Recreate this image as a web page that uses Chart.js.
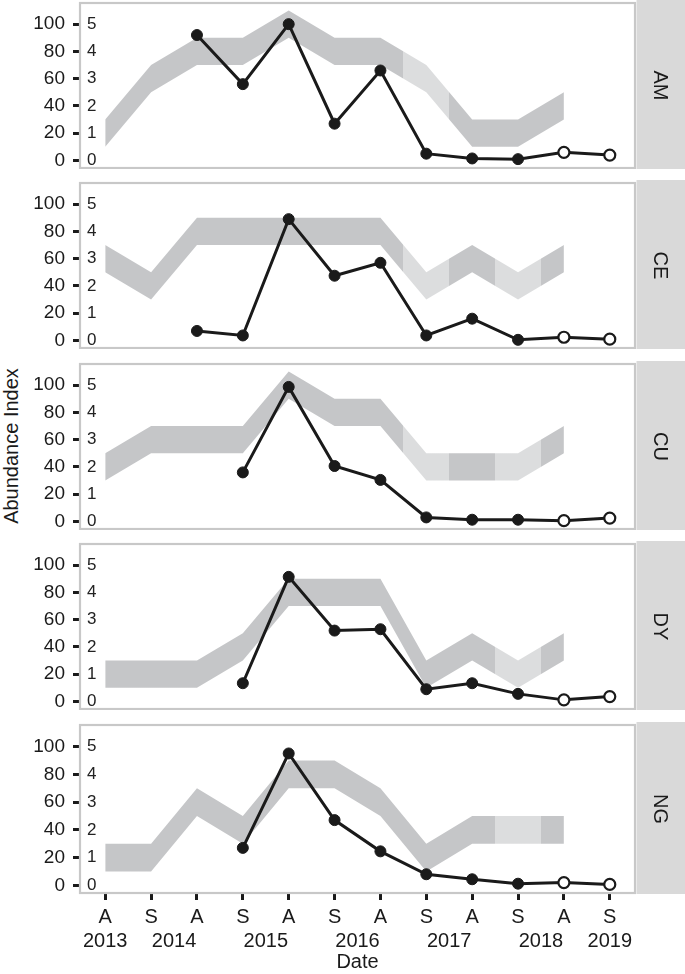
<!DOCTYPE html>
<html>
<head>
<meta charset="utf-8">
<script src="https://cdn.jsdelivr.net/npm/chart.js@4.4.1/dist/chart.umd.min.js"></script>
<style>
  html, body { margin: 0; padding: 0; background: #fff; }
  #wrap { position: relative; width: 685px; height: 974px; overflow: hidden; }
  #wrap canvas { position: absolute; left: 0; }
  #ytitle {
    position: absolute; left: -139px; top: 434px; width: 300px; height: 24px;
    text-align: center; font: 20px 'Liberation Sans', Arial, sans-serif; color: #1a1a1a;
    transform: rotate(-90deg); line-height: 24px;
  }
</style>
</head>
<body>
<div id="wrap">
  <div id="ytitle">Abundance Index</div>
</div>
<script>
// x axis: survey seasons (A = autumn, S = spring) and the year labels underneath
const seasons = ['A', 'S', 'A', 'S', 'A', 'S', 'A', 'S', 'A', 'S', 'A', 'S'];
const yearLabels = ['2013', '2014', '2015', '2016', '2017', '2018', '2019'];
const yearPos = [0, 1.5, 3.5, 5.5, 7.5, 9.5, 11];

// y axis ticks (index 0-100, score 0-5)
const indexTicks = [0, 20, 40, 60, 80, 100];

const panelNames = ['AM', 'CE', 'CU', 'DY', 'NG'];

// abundance index per season
const amIndex = [null, null, 92, 56, 100, 27, 66, 5, 1.5, 1, 6, 4];
const ceIndex = [null, null, 7, 3.7, 89, 47.5, 57, 3.7, 16, 0.5, 2.4, 1];
const cuIndex = [null, null, null, 36, 98.7, 40.7, 30.5, 3, 1.3, 1.3, 0.6, 2.5];
const dyIndex = [null, null, null, 13.4, 91.4, 52, 53, 9, 13.4, 5.6, 1.2, 3.6];
const ngIndex = [null, null, null, 27, 95, 47, 24.5, 8, 4.4, 1.2, 2, 0.7];

// provisional estimates (open points)
const provisional = [0, 0, 0, 0, 0, 0, 0, 0, 0, 0, 1, 1];

// score band, lower and upper edge
const amLow  = [10, 50, 70, 70, 90, 70, 70, 50, 10, 10, 30, null];
const amHigh = [30, 70, 90, 90, 110, 90, 90, 70, 30, 30, 50, null];
const ceLow  = [50, 30, 70, 70, 70, 70, 70, 30, 50, 30, 50, null];
const ceHigh = [70, 50, 90, 90, 90, 90, 90, 50, 70, 50, 70, null];
const cuLow  = [30, 50, 50, 50, 90, 70, 70, 30, 30, 30, 50, null];
const cuHigh = [50, 70, 70, 70, 110, 90, 90, 50, 50, 50, 70, null];
const dyLow  = [10, 10, 10, 30, 70, 70, 70, 10, 30, 10, 30, null];
const dyHigh = [30, 30, 30, 50, 90, 90, 90, 30, 50, 30, 50, null];
const ngLow  = [10, 10, 50, 30, 70, 70, 50, 10, 30, 30, 30, null];
const ngHigh = [30, 30, 70, 50, 90, 90, 70, 30, 50, 50, 50, null];

// band flag: 1 = lighter shade
const amShade = [0, 0, 0, 0, 0, 0, 0, 1, 0, 0, 0, null];
const ceShade = [0, 0, 0, 0, 0, 0, 0, 1, 0, 1, 0, null];
const cuShade = [0, 0, 0, 0, 0, 0, 0, 1, 0, 1, 0, null];
const dyShade = [0, 0, 0, 0, 0, 0, 0, 0, 0, 1, 0, null];
const ngShade = [0, 0, 0, 0, 0, 0, 0, 0, 0, 1, 0, null];

const panelData = [
  { index: amIndex, low: amLow, high: amHigh, shade: amShade },
  { index: ceIndex, low: ceLow, high: ceHigh, shade: ceShade },
  { index: cuIndex, low: cuLow, high: cuHigh, shade: cuShade },
  { index: dyIndex, low: dyLow, high: dyHigh, shade: dyShade },
  { index: ngIndex, low: ngLow, high: ngHigh, shade: ngShade }
];

const FONT = "'Liberation Sans', Arial, sans-serif";
const INK = '#1a1a1a';
const DARK = '#c5c6c8';
const LIGHT = '#dcddde';
Chart.defaults.font.family = FONT;
Chart.defaults.color = INK;

// horizontal gradient with hard stops halfway between seasons
function bandFill(shade) {
  return function (context) {
    const chart = context.chart;
    const area = chart.chartArea;
    if (!area || !chart.scales.x) return DARK;
    const xs = chart.scales.x;
    const w = area.right - area.left;
    const clamp = v => Math.max(0, Math.min(1, v));
    const g = chart.ctx.createLinearGradient(area.left, 0, area.right, 0);
    shade.forEach((s, i) => {
      if (s === null) return;
      const c = s ? LIGHT : DARK;
      g.addColorStop(clamp((xs.getPixelForValue(i - 0.5) - area.left) / w), c);
      g.addColorStop(clamp((xs.getPixelForValue(i + 0.5) - area.left) / w), c);
    });
    return g;
  };
}

// panel frame + facet strip on the right
const panelDeco = {
  id: 'panelDeco',
  afterDraw(chart, args, opts) {
    const { ctx, chartArea: a } = chart;
    ctx.save();
    ctx.strokeStyle = '#c8c8c8';
    ctx.lineWidth = 2.2;
    ctx.strokeRect(a.left, a.top, a.right - a.left, a.bottom - a.top);
    ctx.fillStyle = '#d9d9d9';
    ctx.fillRect(a.right + 1.5, a.top - 3, chart.width - a.right, a.bottom - a.top + 4);
    ctx.translate((a.right + 1.5 + chart.width) / 2, (a.top + a.bottom) / 2);
    ctx.rotate(Math.PI / 2);
    ctx.fillStyle = INK;
    ctx.font = '20px ' + FONT;
    ctx.textAlign = 'center';
    ctx.textBaseline = 'middle';
    ctx.fillText(opts.label, 0, 1);
    ctx.restore();
  }
};

// no automatic label padding: panel frames sit exactly where set
function noPad(axis) {
  axis.paddingTop = 0;
  axis.paddingBottom = 0;
  axis.paddingLeft = 0;
  axis.paddingRight = 0;
}

const wrap = document.getElementById('wrap');
const PANEL_H = 165;

panelNames.forEach((name, k) => {
  const d = panelData[k];
  const isLast = k === panelNames.length - 1;
  const top = 2.5 + k * 180.6;
  const canvas = document.createElement('canvas');
  const h = isLast ? 974 - (top - 3) : PANEL_H + 4;
  canvas.width = 685;
  canvas.height = Math.round(h);
  canvas.style.top = (top - 3) + 'px';
  wrap.appendChild(canvas);

  new Chart(canvas, {
    type: 'line',
    data: {
      labels: seasons.map((s, i) => i),
      datasets: [
        { data: d.low, borderWidth: 0, pointRadius: 0, fill: false, order: 2 },
        { data: d.high, borderWidth: 0, pointRadius: 0, fill: '-1', backgroundColor: bandFill(d.shade), order: 1 },
        {
          data: d.index,
          borderColor: INK,
          borderWidth: 3,
          pointRadius: 5.5,
          pointBorderWidth: provisional.map(p => p ? 2.2 : 1),
          pointBorderColor: INK,
          pointBackgroundColor: provisional.map(p => p ? '#ffffff' : INK),
          fill: false,
          order: 0
        }
      ]
    },
    plugins: [panelDeco],
    options: {
      responsive: false,
      animation: false,
      layout: { autoPadding: false, padding: { top: 3, right: 50, bottom: isLast ? 0 : 1, left: 0 } },
      plugins: {
        legend: { display: false },
        tooltip: { enabled: false },
        panelDeco: { label: name }
      },
      scales: {
        x: {
          type: 'linear',
          min: -0.55,
          max: 11.55,
          display: isLast,
          position: 'bottom',
          weight: 0,
          afterBuildTicks: axis => { axis.ticks = seasons.map((s, i) => ({ value: i })); },
          afterFit: axis => { axis.height = isLast ? 36 : 0; noPad(axis); },
          ticks: {
            autoSkip: false, maxRotation: 0, padding: 5, color: INK,
            font: { size: 20 },
            callback: (v, i) => seasons[i]
          },
          grid: { drawOnChartArea: false, tickLength: 7, tickWidth: 3, tickColor: INK },
          border: { display: false }
        },
        years: {
          type: 'linear',
          min: -0.55,
          max: 11.55,
          display: isLast,
          position: 'bottom',
          weight: 1,
          afterBuildTicks: axis => { axis.ticks = yearPos.map(v => ({ value: v })); },
          afterFit: axis => { axis.height = isLast ? 45 : 0; noPad(axis); },
          ticks: {
            autoSkip: false, maxRotation: 0, padding: 0, color: INK,
            font: { size: 20 },
            callback: (v, i) => yearLabels[i]
          },
          grid: { display: false, drawTicks: false },
          border: { display: false },
          title: { display: true, text: 'Date', font: { size: 20 }, color: INK, padding: { top: 0, bottom: 0 } }
        },
        y: {
          min: -5.5,
          max: 115.5,
          position: 'left',
          weight: 10,
          afterBuildTicks: axis => { axis.ticks = indexTicks.map(v => ({ value: v })); },
          afterFit: axis => { axis.width = 80; noPad(axis); },
          ticks: { padding: 8, color: INK, font: { size: 19 } },
          grid: { drawOnChartArea: false, tickLength: 7, tickWidth: 3, tickColor: INK },
          border: { display: false }
        },
        score: {
          min: -5.5,
          max: 115.5,
          position: 'left',
          weight: 0,
          afterBuildTicks: axis => { axis.ticks = indexTicks.map(v => ({ value: v })); },
          afterFit: axis => { axis.width = 0; noPad(axis); },
          ticks: { mirror: true, padding: 7, color: '#222', font: { size: 17 }, callback: v => v / 20 },
          grid: { display: false, drawTicks: false },
          border: { display: false }
        }
      }
    }
  });
});
</script>
</body>
</html>
